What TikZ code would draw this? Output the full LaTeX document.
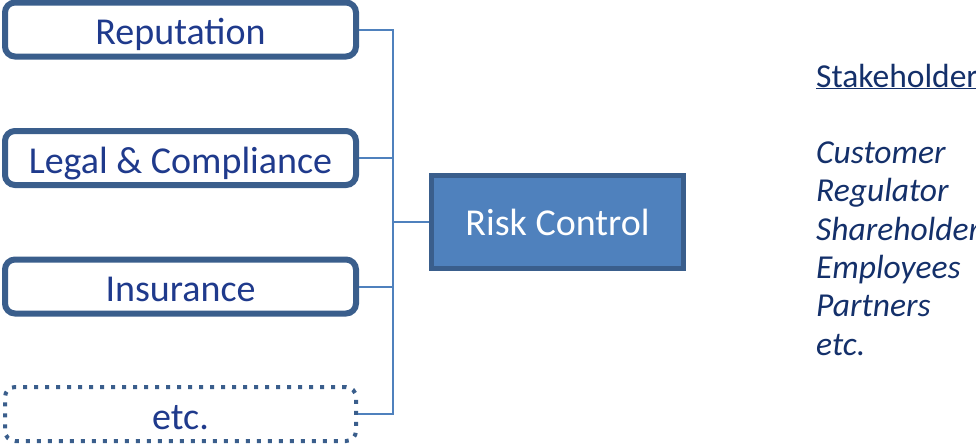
\documentclass[tikz,border=0pt]{standalone}
\usepackage{fontspec}
\setmainfont{Carlito}
\usepackage{tikz}
\usetikzlibrary{positioning}

\definecolor{boxline}{HTML}{3A5E8C}
\definecolor{boxfill}{HTML}{4F81BD}
\definecolor{labeltext}{HTML}{1F3A8C}
\definecolor{sidetext}{HTML}{14306A}

\begin{document}
\begin{tikzpicture}[x=1pt,y=-1pt,node distance=68.5pt,
    area/.style={draw=boxline,line width=6pt,rounded corners=10pt,fill=white,minimum width=351pt,minimum height=54pt,text height=30pt,text depth=0pt,text=labeltext,font=\fontsize{38}{40}\selectfont},
    control/.style={draw=boxline,line width=5pt,fill=boxfill,minimum width=252pt,minimum height=93pt,text=white,font=\fontsize{38}{40}\selectfont},
    link/.style={boxfill,line width=2pt}]
    \useasboundingbox (0,0) rectangle (976,445);
    \node[area] (reputation) at (180.5,29.5) {Reputation};
    \node[area,below=of reputation] (legal) {Legal \& Compliance};
    \node[area,below=of legal] (insurance) {Insurance};
    \node[area,below=of insurance,line width=4pt,dash pattern=on 4pt off 7pt] (others) {etc.};
    \node[control] (risk) at (557.5,222) {Risk Control};
    \coordinate (join) at (393,222);
    \draw[link] (reputation.east) -| (join);
    \draw[link] (legal.east) -| (join);
    \draw[link] (insurance.east) -| (join);
    \draw[link] (others.east) -| (join);
    \draw[link] (join) -- (risk.west);
    % stakeholder list, cut at the right border
    \node[anchor=base west,inner sep=0pt,text=sidetext,font=\fontsize{33.5}{38.3}\selectfont] (stakeholders) at (816,87)
      {\begin{tabular}[t]{@{}l@{}}\underline{Stakeholder}\\ \\ \itshape Customer\\ \itshape Regulator\\ \itshape Shareholder\\ \itshape Employees\\ \itshape Partners\\ \itshape etc.\end{tabular}};
\end{tikzpicture}
\end{document}
